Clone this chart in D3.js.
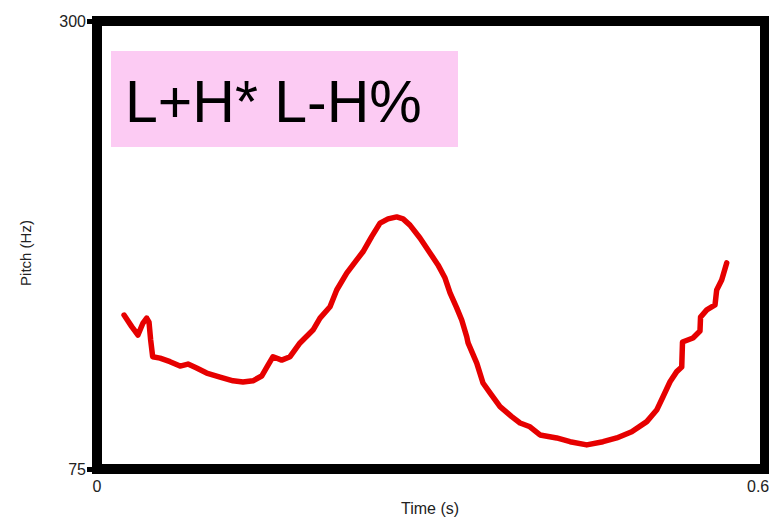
<!DOCTYPE html>
<html>
<head>
<meta charset="utf-8">
<script src="https://cdn.jsdelivr.net/npm/d3@7"></script>
<style>
  body { margin: 0; background: #fff; }
  svg text { font-family: "Liberation Sans", Arial, sans-serif; }
</style>
</head>
<body>
<svg id="chart" width="769" height="523"></svg>
<script>
// pitch track (time in s, pitch in Hz)
var times = [0.0243, 0.0312, 0.0368, 0.0413, 0.0446, 0.0467, 0.0482, 0.0500, 0.0566, 0.0656,
  0.0746, 0.0817, 0.0895, 0.0985, 0.1105, 0.1222, 0.1311, 0.1401, 0.1479, 0.1536,
  0.1581, 0.1659, 0.1734, 0.1823, 0.1940, 0.2003, 0.2093, 0.2153, 0.2243, 0.2333,
  0.2389, 0.2467, 0.2542, 0.2614, 0.2692, 0.2749, 0.2811, 0.2901, 0.2991, 0.3063,
  0.3126, 0.3171, 0.3231, 0.3276, 0.3321, 0.3333, 0.3411, 0.3467, 0.3530, 0.3620,
  0.3725, 0.3800, 0.3889, 0.3979, 0.4129, 0.4249, 0.4399, 0.4545, 0.4668, 0.4803,
  0.4938, 0.5027, 0.5084, 0.5147, 0.5207, 0.5252, 0.5259, 0.5353, 0.5416, 0.5421,
  0.5477, 0.5551, 0.5566, 0.5611, 0.5656];
var pitch = [152.3, 146.5, 142.3, 148.3, 150.8, 148.8, 139.8, 131.4, 130.7, 128.9,
  126.7, 127.7, 125.7, 123.2, 121.2, 119.3, 118.7, 119.3, 121.7, 127.2,
  131.4, 129.7, 131.4, 138.3, 144.8, 150.8, 156.5, 164.9, 173.4, 180.0,
  184.1, 191.7, 198.5, 200.6, 201.6, 200.6, 197.5, 191.0, 183.5, 177.5,
  170.9, 163.4, 155.9, 149.8, 141.4, 138.3, 128.2, 118.2, 113.2, 106.3,
  101.3, 98.1, 96.2, 92.1, 90.6, 88.7, 87.1, 88.7, 90.6, 93.7,
  98.8, 104.6, 111.3, 118.8, 123.9, 126.2, 138.8, 140.8, 144.3, 151.3,
  154.9, 157.4, 164.9, 169.9, 178.5];

var xTicks = [0, 0.6];
var xTickLabels = ["0", "0.6"];
var yTicks = [75, 300];
var yTickLabels = ["75", "300"];
var label = "L+H* L-H%";

var svg = d3.select("#chart");

var x = d3.scaleLinear().domain([0, 0.6]).range([97, 765]);
var y = d3.scaleLinear().domain([75, 300]).range([469, 21]);

// annotation box
svg.append("rect")
  .attr("x", 111)
  .attr("y", 51)
  .attr("width", 347)
  .attr("height", 96)
  .attr("fill", "#fccbf3");

svg.append("text")
  .attr("x", 125)
  .attr("y", 122)
  .attr("font-size", 59)
  .attr("fill", "#000")
  .text(label);

// pitch curve
var pts = times.map(function(t, i) { return [t, pitch[i]]; });
svg.append("path")
  .datum(pts)
  .attr("fill", "none")
  .attr("stroke", "#e60000")
  .attr("stroke-width", 5.5)
  .attr("stroke-linejoin", "round")
  .attr("stroke-linecap", "round")
  .attr("d", d3.line()
    .x(function(d) { return x(d[0]); })
    .y(function(d) { return y(d[1]); }));

// frame
svg.append("rect")
  .attr("x", x(0))
  .attr("y", y(300))
  .attr("width", x(0.6) - x(0))
  .attr("height", y(75) - y(300))
  .attr("fill", "none")
  .attr("stroke", "#000")
  .attr("stroke-width", 10);

// y axis: short thick ticks + labels
var yAxis = svg.append("g")
  .attr("transform", "translate(" + (x(0) - 4) + ",0)")
  .call(d3.axisLeft(y)
    .tickValues(yTicks)
    .tickFormat(function(d, i) { return yTickLabels[i]; })
    .tickSize(6)
    .tickPadding(1));
yAxis.select(".domain").remove();
yAxis.selectAll(".tick line").attr("stroke", "#000").attr("stroke-width", 5);
yAxis.selectAll(".tick text")
  .attr("font-family", "Liberation Sans, Arial, sans-serif")
  .attr("font-size", 16)
  .attr("fill", "#222");

// x tick labels
svg.selectAll("text.xtick")
  .data(xTicks)
  .enter()
  .append("text")
  .classed("xtick", true)
  .attr("x", function(d, i) { return i == 0 ? x(d) : x(d) - 18; })
  .attr("y", 492)
  .attr("text-anchor", function(d, i) { return i == 0 ? "middle" : "start"; })
  .attr("font-size", 16)
  .attr("fill", "#222")
  .text(function(d, i) { return xTickLabels[i]; });

// axis titles
svg.append("text")
  .attr("x", 430)
  .attr("y", 514)
  .attr("text-anchor", "middle")
  .attr("font-size", 16)
  .attr("fill", "#222")
  .text("Time (s)");

svg.append("text")
  .attr("transform", "translate(31,253) rotate(-90)")
  .attr("text-anchor", "middle")
  .attr("font-size", 15)
  .attr("fill", "#222")
  .text("Pitch (Hz)");
</script>
</body>
</html>
